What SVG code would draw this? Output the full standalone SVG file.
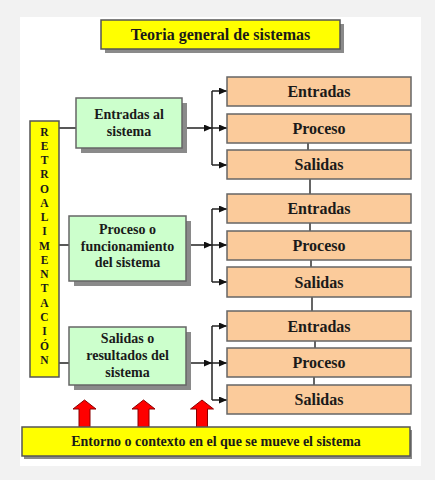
<svg xmlns="http://www.w3.org/2000/svg" width="435" height="480" viewBox="0 0 435 480">
<defs>
<marker id="ah" markerUnits="userSpaceOnUse" markerWidth="8" markerHeight="7" refX="8" refY="3.5" orient="auto">
<path d="M0,0 L8,3.5 L0,7 Z" fill="#111"/>
</marker>
<style>
.sh{fill:#8a8a8a}
.t{font-family:"Liberation Serif","Times New Roman",serif;font-weight:bold;fill:#1a1a1a;text-anchor:middle}
.yb{fill:#ffff00;stroke:#555;stroke-width:1.5}
.gb{fill:#ccffcc;stroke:#666;stroke-width:1.5}
.ob{fill:#fbcb9b;stroke:#666;stroke-width:1.5}
.ot{font-size:16px}
.gt{font-size:14px}
.rt{font-size:11.5px}
.c{stroke:#222;stroke-width:1.5;fill:none}
.v{stroke:#333;stroke-width:1.5}
.ra{fill:#ff0000;stroke:#8a0000;stroke-width:1}
</style>
</defs>
<rect x="0" y="0" width="435" height="480" fill="#f2f2f2"/>
<rect x="20" y="17" width="401" height="449" fill="#ffffff"/>

<g id="connectors">
<path class="v" d="M308,143V150 M310,179V194 M310,223V231 M311,260V267 M312,297V311 M315,341V348 M314,377V385"/>
<path class="c" d="M59,128H76 M59,245H69 M59,363H69"/>
<path class="c" d="M187,128H212" marker-end="url(#ah)"/>
<path class="c" d="M212,91V165"/>
<path class="c" d="M212,91H227" marker-end="url(#ah)"/>
<path class="c" d="M212,128H227" marker-end="url(#ah)"/>
<path class="c" d="M212,165H227" marker-end="url(#ah)"/>
<path class="c" d="M190,245H212" marker-end="url(#ah)"/>
<path class="c" d="M212,209V282"/>
<path class="c" d="M212,209H227" marker-end="url(#ah)"/>
<path class="c" d="M212,245H227" marker-end="url(#ah)"/>
<path class="c" d="M212,282H227" marker-end="url(#ah)"/>
<path class="c" d="M190,363H212" marker-end="url(#ah)"/>
<path class="c" d="M212,326V400"/>
<path class="c" d="M212,326H227" marker-end="url(#ah)"/>
<path class="c" d="M212,363H227" marker-end="url(#ah)"/>
<path class="c" d="M212,400H227" marker-end="url(#ah)"/>
</g>

<g id="title">
<rect class="sh" x="105" y="24" width="239" height="29"/>
<rect class="yb" x="101" y="20" width="239" height="29"/>
<text class="t ot" x="220.5" y="40">Teoria general de sistemas</text>
</g>

<g id="retroalimentacion">
<rect class="yb" x="30" y="121" width="29" height="256"/>
<g class="t rt">
<text x="44.5" y="136">R</text>
<text x="44.5" y="150">E</text>
<text x="44.5" y="164">T</text>
<text x="44.5" y="178">R</text>
<text x="44.5" y="193">O</text>
<text x="44.5" y="207">A</text>
<text x="44.5" y="221">L</text>
<text x="44.5" y="235">I</text>
<text x="44.5" y="250">M</text>
<text x="44.5" y="264">E</text>
<text x="44.5" y="278">N</text>
<text x="44.5" y="292">T</text>
<text x="44.5" y="307">A</text>
<text x="44.5" y="321">C</text>
<text x="44.5" y="335">I</text>
<text x="44.5" y="350">Ó</text>
<text x="44.5" y="364">N</text>
</g>
</g>

<g id="g-entradas-sistema">
<rect class="sh" x="81" y="103" width="106" height="50"/>
<rect class="gb" x="76" y="98" width="106" height="50"/>
<text class="t gt" x="129" y="119">Entradas al</text>
<text class="t gt" x="129" y="136">sistema</text>
</g>
<g id="g-proceso-funcionamiento">
<rect class="sh" x="74" y="221" width="117" height="65"/>
<rect class="gb" x="69" y="216" width="117" height="65"/>
<text class="t gt" x="127.5" y="234">Proceso o</text>
<text class="t gt" x="127.5" y="250.5">funcionamiento</text>
<text class="t gt" x="127.5" y="267">del sistema</text>
</g>
<g id="g-salidas-resultados">
<rect class="sh" x="74" y="332" width="117" height="58"/>
<rect class="gb" x="69" y="327" width="117" height="58"/>
<text class="t gt" x="127.5" y="343">Salidas o</text>
<text class="t gt" x="127.5" y="360">resultados del</text>
<text class="t gt" x="127.5" y="377">sistema</text>
</g>

<g id="o1-entradas"><rect class="ob" x="227" y="77" width="184" height="29"/><text class="t ot" x="319" y="97">Entradas</text></g>
<g id="o1-proceso"><rect class="ob" x="227" y="114" width="184" height="29"/><text class="t ot" x="319" y="134">Proceso</text></g>
<g id="o1-salidas"><rect class="ob" x="227" y="150" width="184" height="29"/><text class="t ot" x="319" y="170">Salidas</text></g>
<g id="o2-entradas"><rect class="ob" x="227" y="194" width="184" height="29"/><text class="t ot" x="319" y="214">Entradas</text></g>
<g id="o2-proceso"><rect class="ob" x="227" y="231" width="184" height="29"/><text class="t ot" x="319" y="251">Proceso</text></g>
<g id="o2-salidas"><rect class="ob" x="227" y="267" width="184" height="30"/><text class="t ot" x="319" y="288">Salidas</text></g>
<g id="o3-entradas"><rect class="ob" x="227" y="311" width="184" height="30"/><text class="t ot" x="319" y="332">Entradas</text></g>
<g id="o3-proceso"><rect class="ob" x="227" y="348" width="184" height="29"/><text class="t ot" x="319" y="368">Proceso</text></g>
<g id="o3-salidas"><rect class="ob" x="227" y="385" width="184" height="29"/><text class="t ot" x="319" y="405">Salidas</text></g>

<g id="red-arrows">
<path class="ra" d="M84.5,400 L96,409 L90,409 L90,429 L79,429 L79,409 L73,409 Z"/>
<path class="ra" d="M143.5,400 L155,409 L149,409 L149,429 L138,429 L138,409 L132,409 Z"/>
<path class="ra" d="M202,400 L213.5,409 L207.5,409 L207.5,429 L196.5,429 L196.5,409 L190.5,409 Z"/>
</g>

<g id="entorno">
<rect class="sh" x="24" y="430" width="388" height="29"/>
<rect class="yb" x="22" y="427" width="388" height="29"/>
<text class="t" style="font-size:14px" x="216" y="446">Entorno o contexto en el que se mueve el sistema</text>
</g>
</svg>
